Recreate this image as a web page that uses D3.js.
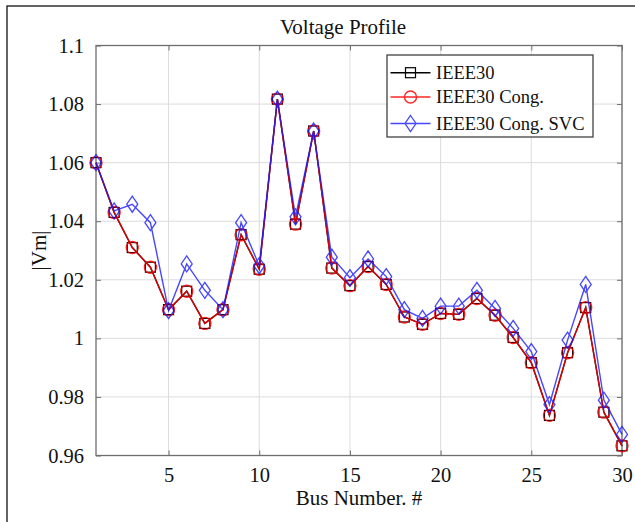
<!DOCTYPE html>
<html>
<head>
<meta charset="utf-8">
<script src="https://cdn.jsdelivr.net/npm/d3@7"></script>
<style>
  body { margin: 0; background: #fff; }
  svg { display: block; font-family: "Liberation Serif", "Times New Roman", serif; }
</style>
</head>
<body>
<div id="output"></div>
<script>
// bus numbers and voltage magnitudes
const buses = [1, 2, 3, 4, 5, 6, 7, 8, 9, 10, 11, 12, 13, 14, 15, 16, 17, 18, 19, 20, 21, 22, 23, 24, 25, 26, 27, 28, 29, 30];
const ieee30 = [1.060, 1.043, 1.031, 1.0243, 1.0098, 1.0161, 1.0051, 1.0098, 1.0354, 1.0236, 1.0817, 1.039, 1.0708, 1.024, 1.018, 1.0245, 1.0184, 1.0073, 1.0048, 1.0085, 1.0082, 1.0136, 1.0079, 1.0003, 0.9917, 0.9737, 0.9951, 1.0105, 0.9748, 0.9633];
const ieee30Cong = [1.060, 1.043, 1.031, 1.0243, 1.0098, 1.0161, 1.0051, 1.0098, 1.0354, 1.0236, 1.0817, 1.039, 1.0708, 1.024, 1.018, 1.0245, 1.0184, 1.0073, 1.0048, 1.0085, 1.0082, 1.0136, 1.0079, 1.0003, 0.9917, 0.9737, 0.9951, 1.0105, 0.9748, 0.9633];
const ieee30CongSvc = [1.060, 1.0435, 1.0458, 1.0395, 1.0095, 1.0254, 1.0164, 1.0098, 1.0395, 1.0248, 1.0817, 1.0415, 1.0708, 1.0277, 1.0207, 1.0271, 1.0211, 1.0098, 1.0068, 1.011, 1.011, 1.0164, 1.0102, 1.0034, 0.9955, 0.9774, 0.9994, 1.0184, 0.9789, 0.9672];
const seriesNames = ["IEEE30", "IEEE30 Cong.", "IEEE30 Cong. SVC"];
const xTicks = [5, 10, 15, 20, 25, 30];
const yTicks = [0.96, 0.98, 1, 1.02, 1.04, 1.06, 1.08, 1.1];

const width = 635, height = 522;
const plotL = 96, plotR = 622, plotT = 45.5, plotB = 455.5;

const series = [
    {name: seriesNames[0], values: ieee30, color: "#000", symbol: "square", alpha: 1},
    {name: seriesNames[1], values: ieee30Cong, color: "#ff0000", symbol: "circle", alpha: 0.85},
    {name: seriesNames[2], values: ieee30CongSvc, color: "#1a1aff", symbol: "diamond", alpha: 0.8}
];

const x = d3.scaleLinear().domain([1, 30]).range([plotL, plotR]);
const y = d3.scaleLinear().domain([0.96, 1.1]).range([plotB, plotT]);

const svg = d3.create("svg")
    .attr("width", width)
    .attr("height", height);

// figure frame (runs off the right and bottom edges)
svg.append("rect")
    .attr("x", 7).attr("y", 6)
    .attr("width", 640).attr("height", 530)
    .attr("fill", "none")
    .attr("stroke", "#111")
    .attr("stroke-width", 1.3);

// grid
svg.append("g")
    .attr("stroke", "#dcdcdc")
    .attr("stroke-width", 1)
    .selectAll("line")
    .data(xTicks)
    .join("line")
    .attr("x1", d => x(d)).attr("x2", d => x(d))
    .attr("y1", plotT).attr("y2", plotB);

svg.append("g")
    .attr("stroke", "#dcdcdc")
    .attr("stroke-width", 1)
    .selectAll("line")
    .data(yTicks)
    .join("line")
    .attr("x1", plotL).attr("x2", plotR)
    .attr("y1", d => y(d)).attr("y2", d => y(d));

// axes (MATLAB style box with inward ticks)
const axColor = "#6e6e6e";
const fmtY = d => String(+d.toFixed(2));

svg.append("g")
    .attr("transform", `translate(0,${plotB})`)
    .call(d3.axisBottom(x).tickValues(xTicks).tickSizeInner(-5).tickSizeOuter(0).tickPadding(12))
    .call(g => g.select(".domain").remove())
    .call(g => g.selectAll("line").attr("stroke", axColor))
    .call(g => g.selectAll("text").attr("fill", "#111").style("font-size", "20.5px"))
    .attr("font-family", null);

svg.append("g")
    .attr("transform", `translate(0,${plotT})`)
    .call(d3.axisTop(x).tickValues(xTicks).tickSizeInner(-5).tickSizeOuter(0).tickFormat(""))
    .call(g => g.select(".domain").remove())
    .call(g => g.selectAll("line").attr("stroke", axColor));

svg.append("g")
    .attr("transform", `translate(${plotL},0)`)
    .call(d3.axisLeft(y).tickValues(yTicks).tickSizeInner(-5).tickSizeOuter(0).tickPadding(12).tickFormat(fmtY))
    .call(g => g.select(".domain").remove())
    .call(g => g.selectAll("line").attr("stroke", axColor))
    .call(g => g.selectAll("text").attr("fill", "#111").style("font-size", "20.5px"))
    .attr("font-family", null);

svg.append("g")
    .attr("transform", `translate(${plotR},0)`)
    .call(d3.axisRight(y).tickValues(yTicks).tickSizeInner(-5).tickSizeOuter(0).tickFormat(""))
    .call(g => g.select(".domain").remove())
    .call(g => g.selectAll("line").attr("stroke", axColor));

svg.append("rect")
    .attr("x", plotL).attr("y", plotT)
    .attr("width", plotR - plotL).attr("height", plotB - plotT)
    .attr("fill", "none")
    .attr("stroke", axColor)
    .attr("stroke-width", 1.3);

// markers
function marker(sel, symbol, color) {
    if (symbol === "square") {
        sel.append("rect")
            .attr("x", -5).attr("y", -5)
            .attr("width", 10).attr("height", 10)
            .attr("fill", "none").attr("stroke", color).attr("stroke-width", 1.2);
    } else if (symbol === "circle") {
        sel.append("circle")
            .attr("r", 6)
            .attr("fill", "none").attr("stroke", color).attr("stroke-width", 1.4);
    } else {
        sel.append("path")
            .attr("d", "M0,-8L5.5,0L0,8L-5.5,0Z")
            .attr("fill", "none").attr("stroke", color).attr("stroke-width", 1.3);
    }
}

const line = d3.line()
    .x((d, i) => x(buses[i]))
    .y(d => y(d));

series.forEach(s => {
    const g = svg.append("g").attr("opacity", s.alpha);
    g.append("path")
        .attr("d", line(s.values))
        .attr("fill", "none")
        .attr("stroke", s.color)
        .attr("stroke-width", 1.4);
    g.selectAll("g")
        .data(s.values)
        .join("g")
        .attr("transform", (d, i) => `translate(${x(buses[i])},${y(d)})`)
        .each(function () { marker(d3.select(this), s.symbol, s.color); });
});

// legend
const lg = svg.append("g");
lg.append("rect")
    .attr("x", 387).attr("y", 55)
    .attr("width", 206).attr("height", 82)
    .attr("fill", "#fff")
    .attr("stroke", "#333")
    .attr("stroke-width", 1.2);

const rowY = [72.7, 97, 123.5];
series.forEach((s, i) => {
    const row = lg.append("g")
        .attr("opacity", s.alpha)
        .attr("transform", `translate(0,${rowY[i]})`);
    row.append("line")
        .attr("x1", 390.5).attr("x2", 430.5)
        .attr("stroke", s.color).attr("stroke-width", 1.4);
    row.append("g")
        .attr("transform", "translate(410.5,0)")
        .call(g => marker(g, s.symbol, s.color));
    lg.append("text")
        .attr("x", 436)
        .attr("y", rowY[i])
        .attr("dy", "0.35em")
        .style("font-size", "18.5px")
        .attr("fill", "#111")
        .text(s.name);
});

// title and axis labels
svg.append("text")
    .attr("x", 343).attr("y", 33.5)
    .attr("text-anchor", "middle")
    .style("font-size", "21px")
    .attr("fill", "#111")
    .text("Voltage Profile");

svg.append("text")
    .attr("x", 359).attr("y", 505)
    .attr("text-anchor", "middle")
    .style("font-size", "21px")
    .attr("fill", "#111")
    .text("Bus Number. #");

svg.append("text")
    .attr("transform", `translate(46,${(plotT + plotB) / 2}) rotate(-90)`)
    .attr("text-anchor", "middle")
    .style("font-size", "21px")
    .attr("fill", "#111")
    .text("|Vm|");

document.getElementById("output").append(svg.node());
</script>
</body>
</html>
